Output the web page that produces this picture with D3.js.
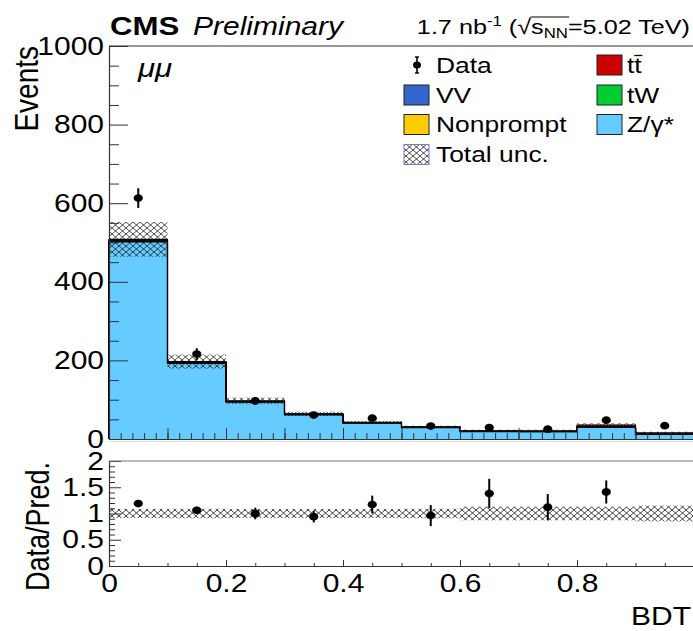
<!DOCTYPE html>
<html>
<head>
<meta charset="utf-8">
<script src="https://cdn.jsdelivr.net/npm/d3@7"></script>
<style>
  body { margin: 0; background: #fff; }
  svg { display: block; }
</style>
</head>
<body>
<script>
'use strict';

// bins of the BDT output (lower edges), width 0.1
const binLow = [0.0, 0.1, 0.2, 0.3, 0.4, 0.5, 0.6, 0.7, 0.8, 0.9];
const binWidth = 0.1;

// stacked backgrounds, bottom to top
const zgamma    = [501.5, 192.5, 93.8, 61.5, 40.4, 28.9, 18.8, 18.3, 29.9, 11.4];
const nonprompt = [2.0, 1.5, 1.0, 0.8, 0.6, 0.5, 0.4, 0.4, 0.5, 0.3];
const tw        = [0.5, 0.5, 0.4, 0.3, 0.3, 0.3, 0.3, 0.3, 0.5, 0.4];
const vv        = [2.5, 1.5, 1.0, 0.8, 0.6, 0.5, 0.5, 0.5, 0.6, 0.4];
const ttbar     = [1.5, 1.0, 0.8, 0.6, 0.6, 0.8, 1.0, 1.5, 4.0, 3.5];

// relative total uncertainty of the prediction
const relUnc = [0.087, 0.09, 0.085, 0.085, 0.085, 0.09, 0.13, 0.13, 0.13, 0.15];

// data
const dataCounts = [613, 216, 97, 61, 53, 33, 29, 25, 48, 34];
const dataErr    = [25, 15, 10, 8, 7, 6, 5.5, 5, 7, 6];

// data / prediction
const ratio    = [1.19, 1.06, 1.0, 0.94, 1.17, 0.96, 1.38, 1.12, 1.41, 2.13];
const ratioErr = [0.05, 0.07, 0.11, 0.11, 0.17, 0.2, 0.28, 0.25, 0.22, 0.4];

const yTicks = [0, 200, 400, 600, 800, 1000];
const ratioYTicks = [0, 0.5, 1, 1.5, 2];
const ratioXTicks = [0, 0.2, 0.4, 0.6, 0.8];

const FONT = '"Liberation Sans", Arial, Helvetica, sans-serif';
const SX = 1.2; // glyphs in the picture are wider than tall, stretch text
const W = 693, H = 631;

const layers = [
    { name: 'Z/γ*', values: zgamma, color: '#66ccff' },
    { name: 'Nonprompt', values: nonprompt, color: '#ffcc00' },
    { name: 'tW', values: tw, color: '#00cc33' },
    { name: 'VV', values: vv, color: '#3366cc' },
    { name: 'tt', values: ttbar, color: '#cc0000' },
];

const svg = d3.select('body').append('svg')
    .attr('width', W).attr('height', H)
    .attr('viewBox', `0 0 ${W} ${H}`);
svg.append('rect').attr('width', W).attr('height', H).attr('fill', '#fff');

const defs = svg.append('defs');
function hatch(id, color, w) {
    const p = defs.append('pattern')
        .attr('id', id)
        .attr('patternUnits', 'userSpaceOnUse')
        .attr('width', 7).attr('height', 6);
    p.append('path')
        .attr('d', 'M0,0 L7,6 M7,0 L0,6 M-1,5 L1,7 M6,-1 L8,1 M-1,1 L1,-1 M6,7 L8,5')
        .attr('stroke', color)
        .attr('stroke-width', w)
        .attr('fill', 'none');
}
hatch('hatchMain', '#111', 0.75);
hatch('hatchRatio', '#333', 0.9);

const x = d3.scaleLinear().domain([0, 1]).range([109, 694]);
const y = d3.scaleLinear().domain([0, 1000]).range([439, 46]);
const yr = d3.scaleLinear().domain([0, 2]).range([566, 461]);

function stretchText(parent, px, py, str, size, opt = {}) {
    const g = parent.append('g')
        .attr('transform', `translate(${px},${py}) scale(${SX},1)` + (opt.rotate ? ` rotate(${opt.rotate})` : ''));
    const t = g.append('text')
        .attr('font-family', FONT)
        .attr('font-size', size)
        .attr('text-anchor', opt.anchor || 'start')
        .attr('fill', '#000');
    if (opt.weight) t.attr('font-weight', opt.weight);
    if (opt.italic) t.attr('font-style', 'italic');
    if (str) t.text(str);
    return { g, t };
}

// ---------- upper pane ----------
const upper = svg.append('g');

// cumulative stack
const stacked = [];
let base = binLow.map(() => 0);
layers.forEach((layer) => {
    const top = base.map((b, i) => b + layer.values[i]);
    stacked.push({ layer, lo: base, hi: top });
    base = top;
});
const total = base;

stacked.forEach(({ layer, lo, hi }) => {
    upper.append('g').selectAll('rect')
        .data(binLow)
        .join('rect')
        .attr('x', (d) => x(d))
        .attr('width', (d) => x(d + binWidth) - x(d))
        .attr('y', (d, i) => y(hi[i]))
        .attr('height', (d, i) => Math.max(0, y(lo[i]) - y(hi[i])))
        .attr('fill', layer.color)
        .attr('shape-rendering', 'crispEdges');
});

const stepLine = d3.line().x((d) => x(d[0])).y((d) => y(d[1]));
stacked.forEach(({ hi }) => {
    const pts = [[0, 0]];
    binLow.forEach((d, i) => {
        pts.push([d, hi[i]]);
        pts.push([d + binWidth, hi[i]]);
    });
    pts.push([1, 0]);
    upper.append('path')
        .attr('d', stepLine(pts))
        .attr('fill', 'none')
        .attr('stroke', '#000')
        .attr('stroke-width', 1.1);
});

// uncertainty band
upper.append('g').selectAll('rect')
    .data(binLow)
    .join('rect')
    .attr('x', (d) => x(d))
    .attr('width', (d) => x(d + binWidth) - x(d))
    .attr('y', (d, i) => y(total[i] * (1 + relUnc[i])))
    .attr('height', (d, i) => y(total[i] * (1 - relUnc[i])) - y(total[i] * (1 + relUnc[i])))
    .attr('fill', 'url(#hatchMain)');

// data points
const pts = upper.append('g');
binLow.forEach((d, i) => {
    const cx = x(d + binWidth / 2);
    pts.append('line')
        .attr('x1', cx).attr('x2', cx)
        .attr('y1', y(dataCounts[i] - dataErr[i]))
        .attr('y2', y(dataCounts[i] + dataErr[i]))
        .attr('stroke', '#000').attr('stroke-width', 2);
    pts.append('ellipse')
        .attr('cx', cx).attr('cy', y(dataCounts[i]))
        .attr('rx', 4.6).attr('ry', 3.9)
        .attr('fill', '#000');
});

// axes of upper pane
const yAxis = upper.append('g')
    .attr('transform', `translate(${x(0)},0)`)
    .call(d3.axisLeft(y).tickValues(yTicks).tickSizeInner(-19).tickSizeOuter(0).tickPadding(5)
        .tickFormat(d3.format('d')));
upper.append('g')
    .attr('transform', `translate(${x(0)},0)`)
    .call(d3.axisLeft(y).tickValues(d3.range(50, 1000, 50).filter((v) => v % 200 !== 0))
        .tickSizeInner(-10).tickSizeOuter(0).tickFormat(''))
    .select('.domain').remove();
upper.append('g')
    .attr('transform', `translate(0,${y(0)})`)
    .call(d3.axisBottom(x).tickValues(d3.range(0, 1.001, 0.1)).tickSizeInner(-11).tickSizeOuter(0).tickFormat(''));
upper.append('g')
    .attr('transform', `translate(0,${y(0)})`)
    .call(d3.axisBottom(x).tickValues(d3.range(0.02, 1, 0.02)).tickSizeInner(-6).tickSizeOuter(0).tickFormat(''))
    .select('.domain').remove();

upper.append('line')
    .attr('x1', x(0)).attr('x2', x(1))
    .attr('y1', y(1000)).attr('y2', y(1000))
    .attr('stroke', '#333').attr('stroke-width', 1.2);
upper.append('line')
    .attr('x1', x(0)).attr('x2', x(1))
    .attr('y1', 441.5).attr('y2', 441.5)
    .attr('stroke', '#ddd').attr('stroke-width', 1);

// ---------- ratio pane ----------
const lower = svg.append('g');
lower.append('g').selectAll('rect')
    .data(binLow)
    .join('rect')
    .attr('x', (d) => x(d))
    .attr('width', (d) => x(d + binWidth) - x(d))
    .attr('y', (d, i) => yr(1 + relUnc[i]))
    .attr('height', (d, i) => yr(1 - relUnc[i]) - yr(1 + relUnc[i]))
    .attr('fill', 'url(#hatchRatio)');

binLow.forEach((d, i) => {
    if (ratio[i] > 2) return;
    const cx = x(d + binWidth / 2);
    lower.append('line')
        .attr('x1', cx).attr('x2', cx)
        .attr('y1', yr(ratio[i] - ratioErr[i]))
        .attr('y2', yr(Math.min(2, ratio[i] + ratioErr[i])))
        .attr('stroke', '#000').attr('stroke-width', 2);
    lower.append('ellipse')
        .attr('cx', cx).attr('cy', yr(ratio[i]))
        .attr('rx', 4.6).attr('ry', 3.9)
        .attr('fill', '#000');
});

const ryAxis = lower.append('g')
    .attr('transform', `translate(${x(0)},0)`)
    .call(d3.axisLeft(yr).tickValues(ratioYTicks).tickSizeInner(-12).tickSizeOuter(0).tickPadding(4)
        .tickFormat(d3.format('~g')));
lower.append('g')
    .attr('transform', `translate(${x(0)},0)`)
    .call(d3.axisLeft(yr).tickValues(d3.range(0.1, 2, 0.1).filter((v) => Math.abs(v * 2 - Math.round(v * 2)) > 0.01))
        .tickSizeInner(-6).tickSizeOuter(0).tickFormat(''))
    .select('.domain').remove();
const rxAxis = lower.append('g')
    .attr('transform', `translate(0,${yr(0)})`)
    .call(d3.axisBottom(x).tickValues(ratioXTicks).tickSizeInner(-6).tickSizeOuter(0).tickPadding(8)
        .tickFormat(d3.format('~g')));
lower.append('g')
    .attr('transform', `translate(0,${yr(0)})`)
    .call(d3.axisBottom(x).tickValues(d3.range(0.05, 1, 0.05).filter((v) => Math.abs(v * 5 - Math.round(v * 5)) > 0.01))
        .tickSizeInner(-3).tickSizeOuter(0).tickFormat(''))
    .select('.domain').remove();
lower.append('line')
    .attr('x1', x(0)).attr('x2', x(1))
    .attr('y1', yr(2)).attr('y2', yr(2))
    .attr('stroke', '#777').attr('stroke-width', 1.2);

// style all axes like ROOT
svg.selectAll('.domain').attr('stroke', '#333').attr('stroke-width', 1.2);
svg.selectAll('.tick line').attr('stroke', '#333').attr('stroke-width', 1);
[yAxis, ryAxis].forEach((ax) => {
    ax.selectAll('text')
        .attr('font-family', FONT).attr('font-size', 25).attr('fill', '#000')
        .attr('x', -5 / SX)
        .attr('transform', `scale(${SX},1)`);
});
rxAxis.selectAll('text')
    .attr('font-family', FONT).attr('font-size', 25).attr('fill', '#000')
    .attr('transform', `scale(${SX},1)`);
svg.selectAll('g[font-family]').attr('font-family', null);

// ---------- titles ----------
stretchText(svg, 110, 35, 'CMS', 26, { weight: 'bold' });
stretchText(svg, 193, 35, 'Preliminary', 25, { italic: true });

const lumi = stretchText(svg, 690, 34, null, 21, { anchor: 'end' });
lumi.t.append('tspan').text('1.7 nb');
lumi.t.append('tspan').attr('font-size', 14).attr('dy', -8).text('-1');
lumi.t.append('tspan').attr('dy', 8).text(' (√s');
lumi.t.append('tspan').attr('font-size', 14).attr('dy', 4).text('NN');
lumi.t.append('tspan').attr('dy', -4).text('=5.02 TeV)');
{
    const node = lumi.t.node();
    const full = node.getNumberOfChars();
    // characters: "1.7 nb" "-1" " (√s" "NN" "=5.02 TeV)"
    const iRoot = 6 + 2 + 2;
    const iEnd = iRoot + 1 + 1 + 2;
    const start = node.getEndPositionOfChar(iRoot);
    const end = node.getEndPositionOfChar(iEnd - 1);
    if (full > iEnd) {
        lumi.g.append('line')
            .attr('x1', start.x - 0.5).attr('x2', end.x + 1)
            .attr('y1', -17).attr('y2', -17)
            .attr('stroke', '#000').attr('stroke-width', 1);
    }
}

stretchText(svg, 138, 77, 'μμ', 26, { italic: true });

stretchText(svg, 38, 46, 'Events', 28, { anchor: 'end', rotate: -90 });
stretchText(svg, 49, 462, 'Data/Pred.', 27, { anchor: 'end', rotate: -90 });
stretchText(svg, 691, 625, 'BDT', 25, { anchor: 'end' });

// ---------- legend ----------
const legend = svg.append('g');
const legendEntries = [
    { name: 'Data', kind: 'data', col: 0, row: 0 },
    { name: 'tt', kind: 'box', layer: 4, col: 1, row: 0 },
    { name: 'VV', kind: 'box', layer: 3, col: 0, row: 1 },
    { name: 'tW', kind: 'box', layer: 2, col: 1, row: 1 },
    { name: 'Nonprompt', kind: 'box', layer: 1, col: 0, row: 2 },
    { name: 'Z/γ*', kind: 'box', layer: 0, col: 1, row: 2 },
    { name: 'Total unc.', kind: 'unc', col: 0, row: 3 },
];
const colX = [404, 597];
const rowY = [65, 95, 124.5, 154.5];
legendEntries.forEach((e) => {
    const bx = colX[e.col];
    const cy = rowY[e.row];
    if (e.kind === 'data') {
        legend.append('line').attr('x1', bx + 13).attr('x2', bx + 13)
            .attr('y1', cy - 8).attr('y2', cy + 8).attr('stroke', '#000').attr('stroke-width', 1.6);
        [cy - 8, cy + 8].forEach((yy) => legend.append('line')
            .attr('x1', bx + 11).attr('x2', bx + 15).attr('y1', yy).attr('y2', yy)
            .attr('stroke', '#000').attr('stroke-width', 1.4));
        legend.append('ellipse').attr('cx', bx + 13).attr('cy', cy).attr('rx', 4).attr('ry', 3.5).attr('fill', '#000');
    } else {
        legend.append('rect')
            .attr('x', bx).attr('y', cy - 10)
            .attr('width', 25).attr('height', 20)
            .attr('fill', e.kind === 'unc' ? 'url(#hatchMain)' : layers[e.layer].color)
            .attr('stroke', e.kind === 'unc' ? '#7a7ae0' : '#222')
            .attr('stroke-width', 1);
    }
    const lt = stretchText(legend, bx + (e.col === 0 ? 32 : 30), cy + 7.5, e.name, 22);
    if (e.name === 'tt') {
        const node = lt.t.node();
        const s = node.getStartPositionOfChar(1);
        const en = node.getEndPositionOfChar(1);
        lt.g.append('line')
            .attr('x1', s.x).attr('x2', en.x + 0.5)
            .attr('y1', -17).attr('y2', -17)
            .attr('stroke', '#000').attr('stroke-width', 1.3);
    }
});
</script>
</body>
</html>
